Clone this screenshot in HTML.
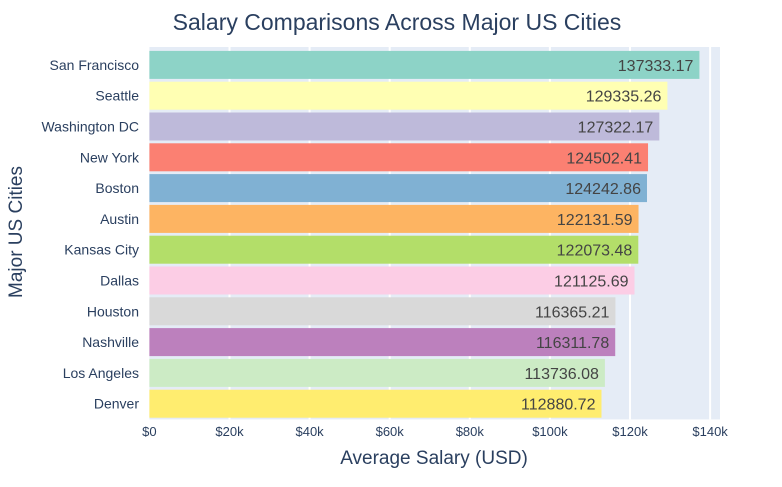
<!DOCTYPE html>
<html><head><meta charset="utf-8"><style>
body{margin:0;background:#fff;font-family:"Liberation Sans",Arial,sans-serif;}
svg text{font-family:"Liberation Sans",Arial,sans-serif;}
</style></head><body>
<svg id="chart" width="782" height="482">
<rect x="149.4" y="47" width="570.6" height="372.4" fill="#E5ECF6"/>
<g id="grid"></g><g id="bars"></g><g id="xticks"></g><g id="yticks"></g>
<text x="397" y="30" text-anchor="middle" font-size="23" fill="#2a3f5f">Salary Comparisons Across Major US Cities</text>
<text x="434" y="464" text-anchor="middle" font-size="19" fill="#2a3f5f">Average Salary (USD)</text>
<text transform="translate(22,232) rotate(-90)" text-anchor="middle" font-size="19" fill="#2a3f5f">Major US Cities</text>
</svg>
<script>
const cities=["San Francisco","Seattle","Washington DC","New York","Boston","Austin","Kansas City","Dallas","Houston","Nashville","Los Angeles","Denver"];
const salaries=[137333.17,129335.26,127322.17,124502.41,124242.86,122131.59,122073.48,121125.69,116365.21,116311.78,113736.08,112880.72];
const tickValues=[0,20000,40000,60000,80000,100000,120000,140000];
const tickLabels=["$0","$20k","$40k","$60k","$80k","$100k","$120k","$140k"];
const colors=["#8DD3C7","#FFFFB3","#BEBADA","#FB8072","#80B1D3","#FDB462","#B3DE69","#FCCDE5","#D9D9D9","#BC80BD","#CCEBC5","#FFED6F"];
const NS="http://www.w3.org/2000/svg";
const x0=149.4,pxPer=80.1/20000,plotTop=49.5,band=30.8,bh=28;
const X=v=>x0+v*pxPer, Y=i=>plotTop+i*band+band/2;
function mk(tag,attrs,parent){const e=document.createElementNS(NS,tag);for(const k in attrs)e.setAttribute(k,attrs[k]);document.getElementById(parent).appendChild(e);return e;}
tickValues.forEach((v,i)=>{
 if(v>0){const g=mk("line",{x1:X(v),x2:X(v),y1:47,y2:419.4,stroke:"#fff","stroke-width":2},"grid");
 
 }
 const t=mk("text",{x:X(v),y:436,"text-anchor":"middle","font-size":13,fill:"#2a3f5f"},"xticks");
 t.textContent=tickLabels[i];
 
 
});
cities.forEach((c,i)=>{
 const r=mk("rect",{x:X(0),y:Y(i)-bh/2,width:X(salaries[i])-X(0),height:bh,fill:colors[i]},"bars");
 
 
 const l=mk("text",{x:X(salaries[i])-6,y:Y(i)+6,"text-anchor":"end","font-size":16,fill:"#444"},"bars");
 l.textContent=salaries[i].toFixed(2);
 
 
 const yl=mk("text",{x:139,y:Y(i)+5,"text-anchor":"end","font-size":14,fill:"#2a3f5f"},"yticks");
 yl.textContent=c;
 
 
});
</script>
</body></html>
